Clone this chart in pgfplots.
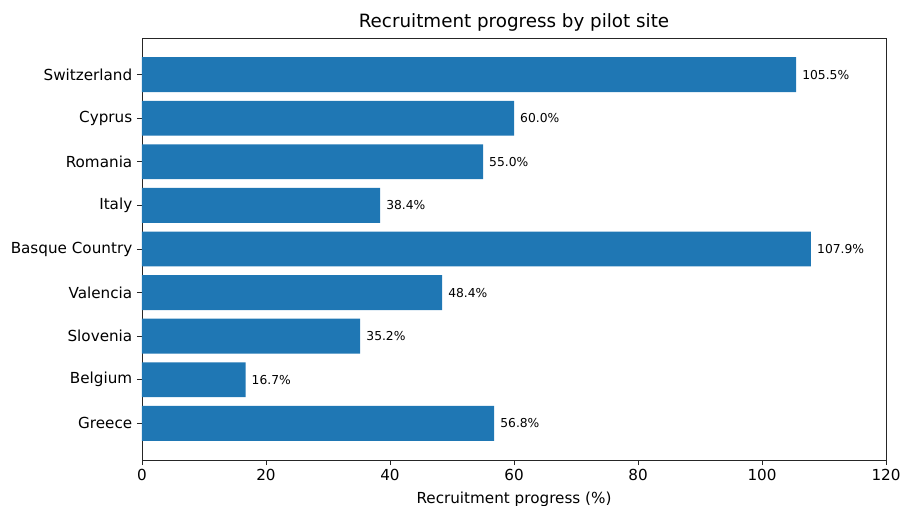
\documentclass[border=0pt]{standalone}
\usepackage{fontspec}
\setmainfont{DejaVu Sans}
\usepackage{pgfplots}
\pgfplotsset{compat=1.18}
\usetikzlibrary{calc}
\definecolor{mplblue}{HTML}{1F77B4}
\begin{document}
\begin{tikzpicture}
\begin{axis}[
  width=744pt, height=422pt, scale only axis,
  xbar, xmin=0, xmax=120, ymin=-0.84, ymax=8.84, bar width=0.8,
  xtick={0,20,...,120}, ytick={0,...,8},
  yticklabels={Greece,Belgium,Slovenia,Valencia,Basque Country,Italy,Romania,Cyprus,Switzerland},
  tick align=outside, major tick length=5.2pt,
  tick style={black!85, line width=0.9pt},
  axis line style={black!85, line width=0.9pt},
  xtick pos=bottom, ytick pos=left,
  /pgf/number format/assume math mode=true,
  ticklabel style={font=\fontsize{15.2}{18}\selectfont},
  yticklabel style={xshift=-1pt},
  title={Recruitment progress by pilot site},
  title style={font=\fontsize{18.3}{22}\selectfont, yshift=-3pt},
  xlabel={Recruitment progress (\%)},
  xlabel style={font=\fontsize{15.2}{18}\selectfont, yshift=-5pt},
  point meta=x,
  nodes near coords={\pgfmathprintnumber[fixed,fixed zerofill,precision=1]{\pgfplotspointmeta}\%},
  every node near coord/.append style={font=\fontsize{12.3}{14}\selectfont, anchor=west, inner sep=0pt, xshift=6pt, black},
  clip=false,
]
\addplot[fill=mplblue, draw=none] coordinates {
  (56.8,0) (16.7,1) (35.2,2) (48.4,3) (107.9,4) (38.4,5) (55.0,6) (60.0,7) (105.5,8)};
\coordinate (sw) at (rel axis cs:0,0);
\coordinate (ne) at (rel axis cs:1,1);
\end{axis}
\pgfresetboundingbox
\path[use as bounding box] ($(sw)+(-142pt,-46pt)$) rectangle ($(ne)+(15pt,38pt)$);
\end{tikzpicture}
\end{document}
